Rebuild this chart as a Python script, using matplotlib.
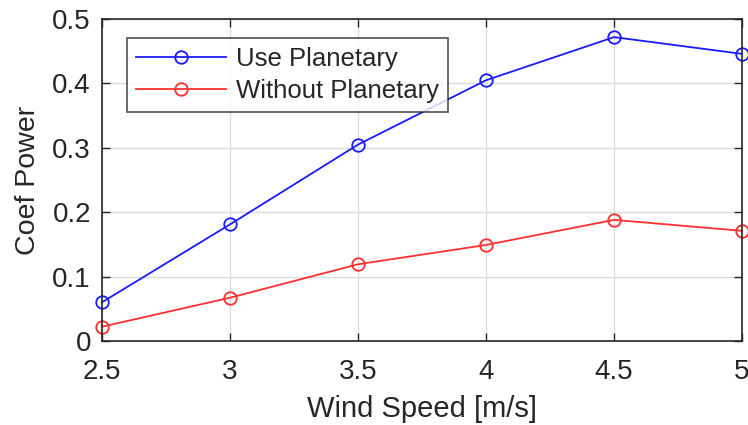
import matplotlib.pyplot as plt

# Data
wind_speed = [2.5, 3, 3.5, 4, 4.5, 5]
cp_planetary = [0.060, 0.181, 0.305, 0.405, 0.472, 0.446]
cp_no_planetary = [0.022, 0.067, 0.119, 0.149, 0.188, 0.171]
x_ticks = [2.5, 3, 3.5, 4, 4.5, 5]
y_ticks = [0, 0.1, 0.2, 0.3, 0.4, 0.5]

plt.rcParams["font.family"] = ["Liberation Sans", "DejaVu Sans"]

fig = plt.figure(figsize=(7.48, 4.25), dpi=100)
ax = fig.add_axes([0.1364, 0.198, 0.8556, 0.757])

ax.plot(wind_speed, cp_planetary, color="#1a1aff", marker="o", markersize=9,
        markerfacecolor="none", markeredgewidth=1.3, linewidth=1.3,
        label="Use Planetary", clip_on=False)
ax.plot(wind_speed, cp_no_planetary, color="#ff3030", marker="o", markersize=9,
        markerfacecolor="none", markeredgewidth=1.3, linewidth=1.3,
        label="Without Planetary", clip_on=False)

ax.set_xlim(2.5, 5)
ax.set_ylim(0, 0.5)
ax.set_xticks(x_ticks)
ax.set_xticklabels(["2.5", "3", "3.5", "4", "4.5", "5"])
ax.set_yticks(y_ticks)
ax.set_yticklabels(["0", "0.1", "0.2", "0.3", "0.4", "0.5"])

ax.grid(True, color="#dcdcdc", linewidth=1.0)
ax.set_axisbelow(True)
ax.tick_params(direction="in", top=True, right=True, length=6, width=1,
               colors="#262626", labelsize=20)
ax.tick_params(axis="x", pad=13)
ax.tick_params(axis="y", pad=8)
for s in ax.spines.values():
    s.set_color("#262626")
    s.set_linewidth(1.2)

ax.set_xlabel("Wind Speed [m/s]", fontsize=21, color="#262626", labelpad=7)
ax.set_ylabel("Coef Power", fontsize=20.5, color="#262626", labelpad=8)

leg = ax.legend(loc="upper left", bbox_to_anchor=(0.039, 0.94), fontsize=18.5,
                frameon=True, fancybox=False, edgecolor="#262626",
                borderpad=0.35, handlelength=3.5, handletextpad=0.4,
                labelspacing=0.3, borderaxespad=0)
leg.get_frame().set_linewidth(1.2)
for t in leg.get_texts():
    t.set_color("#262626")

fig.savefig("out.png", dpi=100)
